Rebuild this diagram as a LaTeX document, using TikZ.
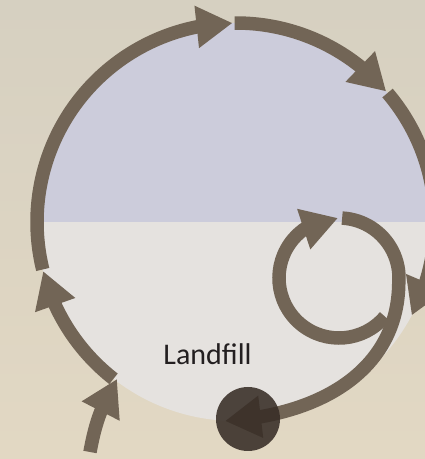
\documentclass[tikz,border=0pt]{standalone}
\usepackage{fontspec}
\newfontfamily\labelfont{Carlito}
\usetikzlibrary{arrows.meta, bending, calc}
\usepackage{xcolor}
\definecolor{bgtop}{RGB}{214,208,193}
\definecolor{bgbottom}{RGB}{226,216,195}
\definecolor{upperhalf}{RGB}{204,204,219}
\definecolor{lowerhalf}{RGB}{229,226,223}
\definecolor{cyclebrown}{RGB}{114,101,86}
\definecolor{sinkdark}{RGB}{55,45,38}
\definecolor{labelink}{RGB}{35,31,32}

\begin{document}
\begin{tikzpicture}[x=1pt, y=1pt,
  flow/.style={draw=cyclebrown, line width=13.5pt,
    -{Triangle[length=36pt, width=40pt]}},
  sinkdot/.style={circle, fill=sinkdark, fill opacity=0.88,
    minimum size=64pt, inner sep=0pt},
  tag/.style={font=\labelfont\fontsize{30}{36}\selectfont,
    text=labelink, anchor=base}]

% --- frame + background ---
\useasboundingbox (0,0) rectangle (425,459);
\clip (0,0) rectangle (425,459);
\shade[top color=bgtop, bottom color=bgbottom] (0,0) rectangle (425,459);

\coordinate (hub) at (236,237);
\coordinate (eddy) at (339,181);
\coordinate (sink) at (248,40);
\coordinate (feed) at (90,7);

% --- the two halves of the big disc ---
\begin{scope}
  \clip (hub) circle (199);
  \fill[upperhalf] (0,237) rectangle (425,459);
  \fill[lowerhalf] (0,0) rectangle (425,237);
\end{scope}

\node[tag] (label) at (207.5,95) {Landfill};

% --- outer cycle (clockwise) ---
\draw[flow] (feed) to[bend left=10] (117,80);
\draw[flow] ([shift={(232:199)}]hub) arc[start angle=232, end angle=194.3, radius=199];
\draw[flow] ([shift={(193.8:199)}]hub) arc[start angle=193.8, end angle=91, radius=199];
\draw[flow] ([shift={(90.4:199)}]hub) arc[start angle=90.4, end angle=41, radius=199];
\draw[flow] ([shift={(40.4:199)}]hub) arc[start angle=40.4, end angle=-28, radius=199];

% --- inner loop and the way out ---
\draw[flow] ([shift={(-40:60)}]eddy) arc[start angle=-40, end angle=-269, radius=60];
\draw[flow] ([shift={(87:60)}]eddy) arc[start angle=87, end angle=-5, radius=60]
  .. controls (398,95) and (330,45) .. ($(sink)+(-23,-2)$);

\node[sinkdot] (sinkdot) at (sink) {};
\end{tikzpicture}
\end{document}
